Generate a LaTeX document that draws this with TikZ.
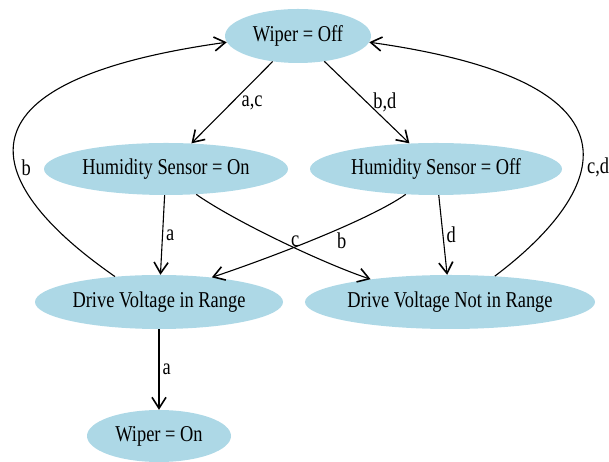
\documentclass[tikz,border=0pt]{standalone}
\usepackage{fontspec}
\setmainfont{Liberation Serif}
\usetikzlibrary{arrows.meta,shapes.geometric}
\definecolor{celeste}{HTML}{ADD8E6}
\newcommand{\alto}[1]{\scalebox{1}[1.23]{#1}}

\begin{document}
\begin{tikzpicture}[x=1pt,y=1pt,
	stato/.style={ellipse, fill=celeste, draw=none, inner sep=0pt, font=\fontsize{18.4}{22}\selectfont},
	arco/.style={line width=1.1pt, black, -{Straight Barb[length=11pt,width=14pt,line width=1.6pt]}},
	etich/.style={font=\fontsize{18.4}{22}\selectfont, inner sep=0pt},
	]
	
	\useasboundingbox (0,0) rectangle (609,462);
	
	%% ── stati ──────────────────────────────────────────────
	\node[stato, minimum width=146pt, minimum height=54pt] (off)   at (298,426) {\alto{Wiper = Off}};
	\node[stato, minimum width=244pt, minimum height=52pt] (hon)   at (166,293) {\alto{Humidity Sensor = On}};
	\node[stato, minimum width=252pt, minimum height=52pt] (hoff)  at (436,293) {\alto{Humidity Sensor = Off}};
	\node[stato, minimum width=248pt, minimum height=54pt] (dvin)  at (159,160) {\alto{Drive Voltage in Range}};
	\node[stato, minimum width=290pt, minimum height=54pt] (dvnot) at (450,160) {\alto{Drive Voltage Not in Range}};
	\node[stato, minimum width=144pt, minimum height=52pt] (won)   at (159,26)  {\alto{Wiper = On}};
	
	%% ── archi diritti ──────────────────────────────────────
	\draw[arco](off)--node[etich, anchor=west, xshift=9pt](lac){\alto{a,c}}(hon);
	\draw[arco](off)--node[etich, anchor=west, xshift=6pt](lbd){\alto{b,d}}(hoff);
	\draw[arco](hon)--node[etich, anchor=west, xshift=3pt](la1){\alto{a}}(dvin);
	\draw[arco](hoff)--node[etich, anchor=west, xshift=3pt](ld){\alto{d}}(dvnot);
	\draw[arco](dvin)--node[etich, anchor=west, xshift=3pt](la2){\alto{a}}(won);
	
	%% ── archi incrociati ───────────────────────────────────
	\draw[arco](hon.-40) .. controls +(40,-28) and +(-45,15) .. node[etich, anchor=west, xshift=9pt](lc){\alto{c}}(dvnot.164);
	\draw[arco](hoff.220) .. controls +(-40,-28) and +(45,15) .. node[etich, anchor=west, xshift=26pt](lb1){\alto{b}}(dvin.25);
	
	%% ── ritorni a Wiper = Off ──────────────────────────────
	\draw[arco](dvin.150) .. controls +(-41,29) and +(-372,-52) .. node[etich, anchor=west, xshift=5pt](lb2){\alto{b}}(off.185);
	\draw[arco](dvnot.30) .. controls +(37,28) and +(362,-51) .. node[etich, anchor=west, xshift=5pt](lcd){\alto{c,d}}(off.-5);
	
\end{tikzpicture}
\end{document}
